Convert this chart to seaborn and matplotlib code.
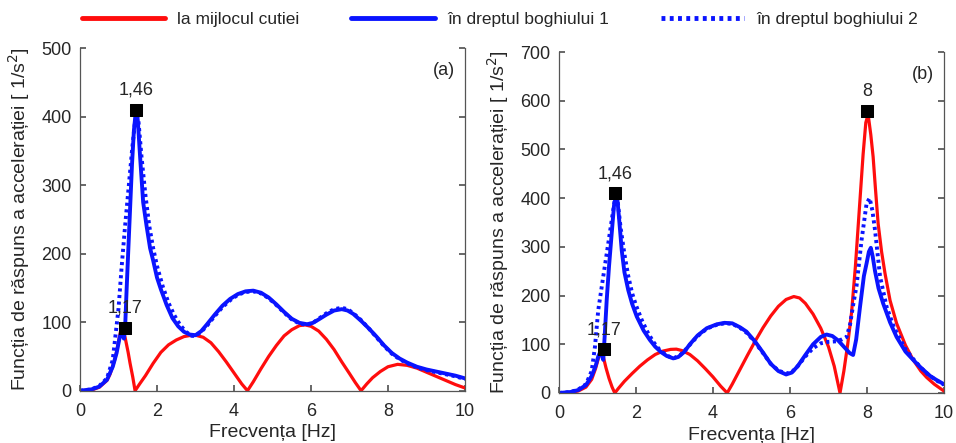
import numpy as np
import pandas as pd
import matplotlib
matplotlib.use("Agg")
import matplotlib.pyplot as plt
import seaborn as sns
from matplotlib.lines import Line2D

# ---- panel (a) ---------------------------------------------------------
a_mid_f = [0, 0.3, 0.5, 0.7, 0.78, 0.9, 0.95, 1.0, 1.05, 1.08, 1.12, 1.17, 1.25, 1.3, 1.37, 1.43,
           1.55, 1.7, 1.9, 2.1, 2.3, 2.5, 2.7, 2.9, 3.0, 3.2, 3.4, 3.6, 3.8, 4.0, 4.2, 4.35,
           4.5, 4.7, 4.9, 5.1, 5.3, 5.5, 5.7, 5.85, 6.0, 6.2, 6.4, 6.6, 6.8, 7.0, 7.15, 7.3,
           7.45, 7.6, 7.8, 8.0, 8.25, 8.5, 8.75, 9.0, 9.25, 9.5, 9.75, 10]
a_mid_v = [0, 1, 5, 15, 24, 45, 57, 72, 86, 90, 86, 78, 56, 40, 20, 0,
           10, 22, 40, 56, 67, 74, 79, 81, 81, 78, 70, 57, 42, 26, 10, 0,
           13, 32, 50, 66, 80, 89, 95, 96, 94, 87, 75, 60, 42, 25, 12, 0,
           10, 19, 28, 35, 38.5, 37, 33, 27, 21, 15, 9, 4]

a_b1_f = [0, 0.3, 0.5, 0.7, 0.85, 0.95, 1.02, 1.07, 1.11, 1.14, 1.17, 1.21, 1.25, 1.3, 1.35, 1.4,
          1.44, 1.47, 1.5, 1.56, 1.64, 1.73, 1.82, 1.9, 2.0, 2.1, 2.25, 2.4, 2.55, 2.7, 2.85, 3.0,
          3.15, 3.3, 3.5, 3.7, 3.9, 4.1, 4.3, 4.5, 4.7, 4.9, 5.1, 5.3, 5.5, 5.7, 5.9, 6.05,
          6.2, 6.4, 6.6, 6.8, 6.95, 7.1, 7.3, 7.5, 7.7, 7.9, 8.1, 8.3, 8.5, 8.75, 9.0, 9.25,
          9.5, 9.75, 10]
a_b1_v = [0, 2, 6, 16, 35, 55, 75, 86, 82, 76, 90, 147, 200, 265, 330, 380,
          402, 408, 395, 342, 275, 240, 208, 190, 165, 148, 125, 106, 94, 86, 82, 81,
          87, 97, 111, 124, 134, 141, 145, 146, 143, 136, 126, 115, 105, 99, 97, 99,
          104, 111, 117, 119, 117, 112, 102, 91, 79, 66, 55, 47, 41, 35, 31, 28,
          25, 22, 18]

a_b2_f = [0, 0.3, 0.5, 0.7, 0.85, 0.92, 1.0, 1.08, 1.17, 1.26, 1.35, 1.42, 1.47, 1.52, 1.6, 1.7,
          1.8, 1.9, 2.0, 2.15, 2.3, 2.45, 2.6, 2.75, 2.9, 3.0, 3.15, 3.3, 3.5, 3.7, 3.9, 4.1,
          4.3, 4.5, 4.7, 4.9, 5.1, 5.3, 5.5, 5.7, 5.9, 6.05, 6.2, 6.4, 6.6, 6.8, 6.95, 7.1,
          7.3, 7.5, 7.7, 7.9, 8.1, 8.3, 8.5, 8.75, 9.0, 9.25, 9.5, 9.75, 10]
a_b2_v = [0, 2, 7, 18, 45, 80, 120, 180, 240, 295, 350, 388, 403, 392, 340, 285,
          240, 208, 182, 152, 128, 110, 96, 86, 80, 80, 86, 95, 109, 122, 132, 140,
          144, 145, 142, 135, 125, 114, 104, 98, 96, 99, 105, 113, 119, 121, 119, 113,
          103, 91, 78, 65, 54, 46, 40, 34, 30, 27, 24, 21, 17]

# ---- panel (b) ---------------------------------------------------------
b_mid_f = [0, 0.3, 0.5, 0.7, 0.85, 0.95, 1.02, 1.07, 1.1, 1.15, 1.22, 1.3, 1.38, 1.45,
           1.55, 1.7, 1.9, 2.1, 2.3, 2.5, 2.7, 2.9, 3.05, 3.2, 3.4, 3.6, 3.8, 4.0, 4.2, 4.37,
           4.5, 4.7, 4.9, 5.1, 5.3, 5.5, 5.7, 5.9, 6.1, 6.25, 6.4, 6.6, 6.8, 7.0, 7.15, 7.3,
           7.4, 7.5, 7.6, 7.7, 7.8, 7.9, 7.97, 8.03, 8.1, 8.16, 8.22, 8.29, 8.38, 8.47, 8.6,
           8.77, 9.0, 9.2, 9.4, 9.55, 9.75, 10]
b_mid_v = [0, 1, 4, 12, 28, 50, 70, 82, 84, 75, 52, 30, 12, 0,
           10, 24, 40, 55, 68, 79, 86, 89.5, 90, 87, 79, 66, 50, 33, 14, 0,
           18, 48, 78, 107, 134, 158, 178, 192, 198, 195, 184, 162, 133, 95, 55, 0,
           45, 100, 165, 260, 375, 490, 555, 572, 530, 485, 420, 348, 290, 245, 190,
           143, 98, 68, 45, 32, 18, 4]

b_b1_f = [0, 0.3, 0.5, 0.7, 0.85, 0.95, 1.02, 1.07, 1.11, 1.15, 1.19, 1.24, 1.3, 1.37, 1.43,
          1.48, 1.52, 1.57, 1.63, 1.7, 1.8, 1.9, 2.02, 2.2, 2.36, 2.5, 2.65, 2.8, 2.97, 3.1,
          3.25, 3.4, 3.6, 3.84, 4.1, 4.3, 4.5, 4.7, 4.87, 5.1, 5.3, 5.5, 5.7, 5.9, 6.05,
          6.2, 6.4, 6.6, 6.8, 6.95, 7.1, 7.25, 7.4, 7.55, 7.64, 7.72, 7.82, 7.92, 7.99, 8.05,
          8.1, 8.15, 8.21, 8.3, 8.42, 8.6, 8.77, 9.0, 9.2, 9.4, 9.64, 9.8, 10]
b_b1_v = [0, 2, 6, 16, 35, 55, 75, 84, 78, 68, 120, 191, 260, 328, 385,
          405, 395, 350, 293, 248, 211, 183, 157, 128, 109, 95, 84, 76, 71, 74,
          84, 100, 118, 133, 141, 144, 143, 135, 126, 105, 83, 60, 45, 38, 42,
          55, 78, 100, 115, 120, 117, 108, 95, 82, 78, 110, 177, 240, 266, 290,
          298, 280, 250, 215, 184, 145, 115, 85, 68, 52, 35, 27, 18]

b_b2_f = [0, 0.3, 0.5, 0.7, 0.85, 0.935, 1.02, 1.15, 1.28, 1.38, 1.44, 1.48, 1.53, 1.6, 1.7,
          1.8, 1.9, 2.0, 2.15, 2.3, 2.45, 2.6, 2.75, 2.9, 3.0, 3.15, 3.3, 3.5, 3.7, 3.9, 4.1,
          4.3, 4.5, 4.7, 4.9, 5.1, 5.3, 5.5, 5.7, 5.9, 6.05, 6.2, 6.4, 6.6, 6.8, 7.0, 7.2,
          7.35, 7.47, 7.56, 7.64, 7.73, 7.86, 7.99, 8.07, 8.14, 8.21, 8.34, 8.51, 8.7, 9.0,
          9.2, 9.4, 9.6, 9.8, 10]
b_b2_v = [0, 2, 7, 18, 45, 95, 170, 239, 307, 360, 392, 402, 390, 340, 285,
          240, 205, 180, 150, 125, 105, 90, 80, 73, 72, 78, 90, 108, 124, 134, 140,
          143, 142, 134, 122, 103, 82, 60, 46, 40, 43, 55, 75, 92, 102, 105, 106,
          110, 115, 140, 180, 220, 314, 389, 400, 375, 334, 239, 177, 135, 90,
          70, 52, 37, 26, 17]

# labelled peaks: frequency, value, label text
a_peak_f = [1.17, 1.46]
a_peak_v = [92, 410]
a_peak_lbl = ["1,17", "1,46"]
b_peak_f = [1.17, 1.46, 8.0]
b_peak_v = [90, 410, 578]
b_peak_lbl = ["1,17", "1,46", "8"]

series_names = ["la mijlocul cutiei", "în dreptul boghiului 1", "în dreptul boghiului 2"]
RED = "#ff0d0d"
BLUE = "#0a14ff"
TXT = "#262626"
AX = "#555555"

sns.set_theme(style="white")
plt.rcParams["font.family"] = ["Liberation Sans", "DejaVu Sans"]
plt.rcParams["text.color"] = TXT
plt.rcParams["axes.labelcolor"] = TXT
plt.rcParams["xtick.color"] = TXT
plt.rcParams["ytick.color"] = TXT

fig = plt.figure(figsize=(9.56, 4.43), dpi=100)
ax_a = fig.add_axes([0.0837, 0.118, 0.4027, 0.7736])
ax_b = fig.add_axes([0.5847, 0.1129, 0.4027, 0.7697])


def draw_panel(ax, mid, b1, b2, pf, pv, pl, ymax, tag):
    sns.lineplot(data=pd.DataFrame({"f": mid[0], "v": mid[1]}), x="f", y="v", ax=ax,
                 color=RED, lw=2.3, sort=False)
    sns.lineplot(data=pd.DataFrame({"f": b2[0], "v": b2[1]}), x="f", y="v", ax=ax,
                 color=BLUE, lw=2.8, ls=(0, (0.8, 0.9)), sort=False)
    sns.lineplot(data=pd.DataFrame({"f": b1[0], "v": b1[1]}), x="f", y="v", ax=ax,
                 color=BLUE, lw=2.8, sort=False)
    sns.scatterplot(x=pf, y=pv, ax=ax, marker="s", s=85, color="black",
                    edgecolor="black", zorder=5)
    for f, v, t in zip(pf, pv, pl):
        ax.annotate(t, (f, v), xytext=(0, 8), textcoords="offset points",
                    ha="center", va="bottom", fontsize=13, color=TXT)
    ax.set_xlim(0, 10)
    ax.set_ylim(0, ymax)
    ax.set_xticks(range(0, 11, 2))
    ax.set_yticks(range(0, ymax + 1, 100))
    ax.set_xlabel("Frecvența [Hz]", fontsize=14, labelpad=3)
    ax.set_ylabel("Funcția de răspuns a accelerației [ 1/s$^2$]", fontsize=14, labelpad=7)
    ax.tick_params(axis="both", direction="in", labelsize=13, length=4, color=AX,
                   right=True, left=True, bottom=True, top=False)
    ax.tick_params(axis="x", pad=9)
    ax.tick_params(axis="y", pad=6)
    for side in ["left", "bottom", "right"]:
        ax.spines[side].set_color(AX)
        ax.spines[side].set_linewidth(0.9)
    ax.spines["top"].set_visible(False)
    ax.text(0.975, 0.935, tag, transform=ax.transAxes, ha="right", va="center",
            fontsize=13, color=TXT)


draw_panel(ax_a, (a_mid_f, a_mid_v), (a_b1_f, a_b1_v), (a_b2_f, a_b2_v),
           a_peak_f, a_peak_v, a_peak_lbl, 500, "(a)")
draw_panel(ax_b, (b_mid_f, b_mid_v), (b_b1_f, b_b1_v), (b_b2_f, b_b2_v),
           b_peak_f, b_peak_v, b_peak_lbl, 700, "(b)")

handles = [
    Line2D([], [], color=RED, lw=3.5),
    Line2D([], [], color=BLUE, lw=3.5),
    Line2D([], [], color=BLUE, lw=3.5, ls=(0, (0.8, 0.9))),
]
fig.legend(handles, series_names, loc="upper left", bbox_to_anchor=(0.069, 1.008),
           ncol=3, frameon=False, fontsize=12.5, handlelength=4.8, handletextpad=0.7,
           columnspacing=3.0)

fig.savefig("out.png", dpi=100)
